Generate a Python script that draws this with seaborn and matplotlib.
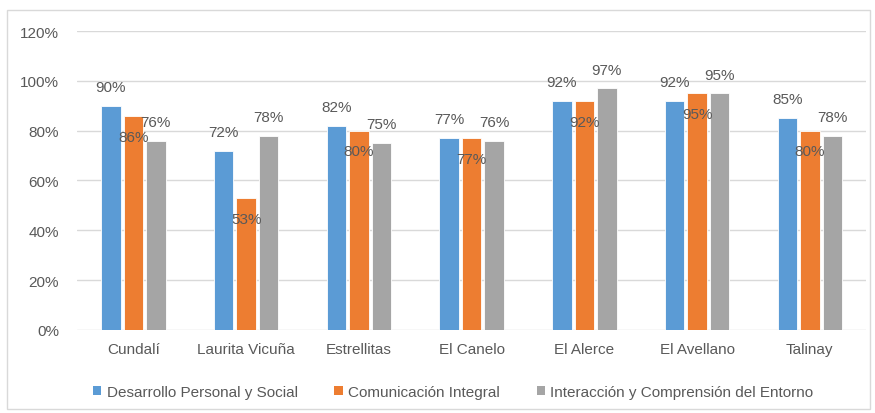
import matplotlib
matplotlib.use("Agg")
import matplotlib.pyplot as plt
import seaborn as sns
import pandas as pd
from matplotlib.patches import Rectangle, Patch
from matplotlib.ticker import PercentFormatter

categories = ["Cundalí", "Laurita Vicuña", "Estrellitas", "El Canelo", "El Alerce", "El Avellano", "Talinay"]
series_names = ["Desarrollo Personal y Social", "Comunicación Integral", "Interacción y Comprensión del Entorno"]
desarrollo = [0.90, 0.72, 0.82, 0.77, 0.92, 0.92, 0.85]
comunicacion = [0.86, 0.53, 0.80, 0.77, 0.92, 0.95, 0.80]
interaccion = [0.76, 0.78, 0.75, 0.76, 0.97, 0.95, 0.78]
colors = ["#5B9BD5", "#ED7D31", "#A5A5A5"]

sns.set_theme(style="white")
plt.rcParams['font.family'] = ['Liberation Sans Narrow', 'Liberation Sans', 'DejaVu Sans']
txt = "#595959"
fs = 11

rows = []
for name, vals in zip(series_names, [desarrollo, comunicacion, interaccion]):
    for c, v in zip(categories, vals):
        rows.append({"cat": c, "serie": name, "val": v})
df = pd.DataFrame(rows)

fig = plt.figure(figsize=(8.75, 4.14), dpi=100)
ax = fig.add_axes([0.088, 0.2005, 0.902, 0.7222])
sns.barplot(data=df, x="cat", y="val", hue="serie", order=categories, hue_order=series_names,
            palette=colors, saturation=1, width=0.6, gap=0.14, ax=ax, legend=False,
            edgecolor="white", linewidth=0.6)

ax.set_ylim(0, 1.2)
ax.set_yticks([0, 0.2, 0.4, 0.6, 0.8, 1.0, 1.2])
ax.yaxis.set_major_formatter(PercentFormatter(1.0, decimals=0))
ax.grid(axis="y", color="#D9D9D9", linewidth=1)
ax.set_axisbelow(True)
for s in ax.spines.values():
    s.set_visible(False)
ax.set_xlabel("")
ax.set_ylabel("")
ax.tick_params(axis="both", length=0, colors=txt, labelsize=fs)
ax.tick_params(axis="x", pad=9)
ax.tick_params(axis="y", pad=13)
for lab in ax.get_xticklabels() + ax.get_yticklabels():
    lab.set_color(txt)

for i, cont in enumerate(ax.containers):
    for bar in cont:
        h = bar.get_height()
        xc = bar.get_x() + bar.get_width() / 2
        label = f"{round(h*100):.0f}%"
        if i == 1:
            ax.annotate(label, (xc, h), xytext=(0, -15), textcoords="offset points",
                        ha="center", va="center", color=txt, fontsize=fs)
        else:
            ax.annotate(label, (xc, h), xytext=(0, 13.5), textcoords="offset points",
                        ha="center", va="center", color=txt, fontsize=fs)

handles = [Patch(facecolor=c, edgecolor="none") for c in colors]
fig.legend(handles, series_names, loc="center", bbox_to_anchor=(0.518, 0.051), ncol=3,
           frameon=False, fontsize=fs, handlelength=0.55, handleheight=0.55,
           handletextpad=0.35, columnspacing=2.4, labelcolor=txt)

fig.patches.append(Rectangle((7/875, 1-410/414), 863/875, 399/414, transform=fig.transFigure,
                             fill=False, edgecolor="#D9D9D9", linewidth=1))

fig.savefig("out.png", dpi=100)
